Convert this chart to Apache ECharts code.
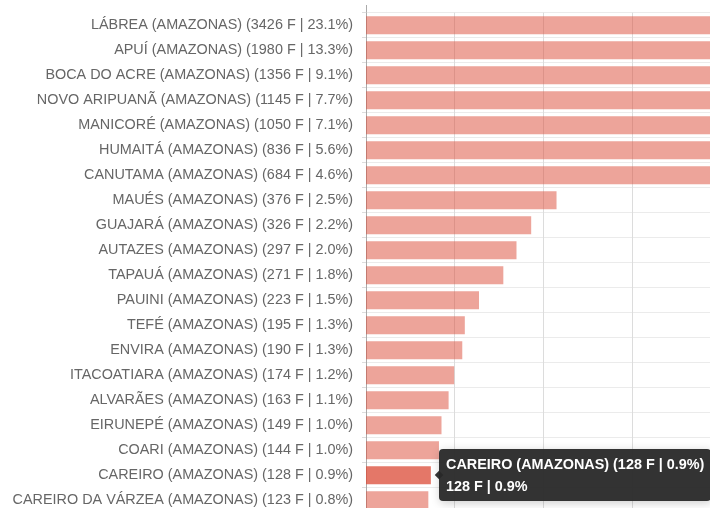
<!DOCTYPE html>
<html><head><meta charset="utf-8">
<script src="https://cdn.jsdelivr.net/npm/echarts@6/dist/echarts.min.js"></script>
<style>html,body{margin:0;padding:0;overflow:hidden;background:#fff}#c{width:710px;height:508px}</style>
</head><body><div id="c"></div>
<script>
const names = ['LÁBREA','APUÍ','BOCA DO ACRE','NOVO ARIPUANÃ','MANICORÉ','HUMAITÁ','CANUTAMA','MAUÉS','GUAJARÁ','AUTAZES','TAPAUÁ','PAUINI','TEFÉ','ENVIRA','ITACOATIARA','ALVARÃES','EIRUNEPÉ','COARI','CAREIRO','CAREIRO DA VÁRZEA'];
const state = 'AMAZONAS';
const counts = [3426,1980,1356,1145,1050,836,684,376,326,297,271,223,195,190,174,163,149,144,128,123];
const pcts = ['23.1','13.3','9.1','7.7','7.1','5.6','4.6','2.5','2.2','2.0','1.8','1.5','1.3','1.3','1.2','1.1','1.0','1.0','0.9','0.8'];
const categories = names.map((n,i)=>`${n} (${state}) (${counts[i]} F | ${pcts[i]}%)`);
const highlightIndex = 18;

const chart = echarts.init(document.getElementById('c'), null, {renderer:'canvas'});
chart.setOption({
  animation:false,
  textStyle:{fontFamily:'"Liberation Sans", Arial, sans-serif'},
  grid:{left:366, top:12.7, right:-10.7, bottom:-4.7, containLabel:false, outerBoundsMode:'none'},
  graphic:[{type:'line', shape:{x1:366.5, y1:5, x2:366.5, y2:13}, style:{stroke:'#aaa', lineWidth:1}}],
  tooltip:{
    trigger:'item', alwaysShowContent:true, position:'right',
    backgroundColor:'rgba(40,40,40,0.95)', borderWidth:0, padding:[4,7],
    textStyle:{color:'#fff', fontSize:14, fontWeight:'bold', fontFamily:'"Liberation Sans", Arial, sans-serif'},
    formatter:p=>`<div style="font-weight:bold;font-size:14.4px;line-height:22px">${p.name}<br/>${counts[p.dataIndex]} F | ${pcts[p.dataIndex]}%</div>`
  },
  xAxis:{type:'value', min:0, max:700, interval:175,
    axisLabel:{show:false}, axisLine:{show:false}, axisTick:{show:false},
    splitLine:{show:true, lineStyle:{color:'#dcdcdc', width:1}}},
  yAxis:{type:'category', inverse:true, data:categories,
    axisLine:{show:true, lineStyle:{color:'#aaa'}},
    axisTick:{show:true, length:4, lineStyle:{color:'#ddd'}},
    splitLine:{show:true, lineStyle:{color:'#ebebeb'}},
    axisLabel:{color:'#666', fontSize:14.4, margin:13, fontFamily:'"Liberation Sans", Arial, sans-serif'}},
  series:[{type:'bar', data:counts, barWidth:18,
    itemStyle:{color:'rgba(219,73,53,0.5)'},
    emphasis:{itemStyle:{color:'rgba(219,73,53,0.75)'}}
  }]
});
chart.dispatchAction({type:'highlight', seriesIndex:0, dataIndex:highlightIndex});
chart.dispatchAction({type:'showTip', seriesIndex:0, dataIndex:highlightIndex});
</script></body></html>
